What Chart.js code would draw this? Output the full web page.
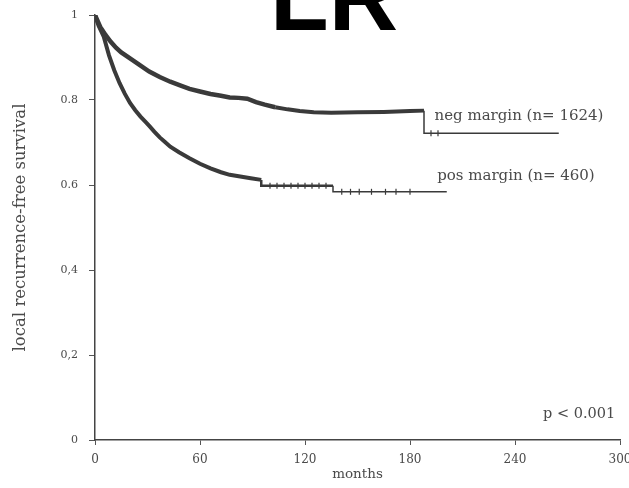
<!DOCTYPE html>
<html>
<head>
<meta charset="utf-8">
<script src="https://cdn.jsdelivr.net/npm/chart.js@4.4.1/dist/chart.umd.min.js"></script>
<style>
  html, body { margin: 0; padding: 0; background: #fff; }
  #wrap { width: 629px; height: 488px; position: relative; }
</style>
</head>
<body>
<div id="wrap"><canvas id="c" width="629" height="488"></canvas></div>
<script>
// ---- data ----
const chartTitle = 'LR';
const xAxisTitle = 'months';
const yAxisTitle = 'local recurrence-free survival';
const xTickValues = [0, 60, 120, 180, 240, 300];
const yTickValues = [0, 0.2, 0.4, 0.6, 0.8, 1];
const yTickLabels = ['0', '0,2', '0,4', '0.6', '0.8', '1'];

const negLabel = 'neg margin (n= 1624)';
const negMonths = [0, 3, 6, 9, 12, 15, 20, 25, 31, 37, 43, 49, 54, 60, 66, 72, 77, 82, 87, 92, 97, 103, 110, 117, 125, 135, 150, 165, 180, 188, 188, 265];
const negSurv   = [1.0, 0.972, 0.953, 0.937, 0.923, 0.912, 0.898, 0.884, 0.867, 0.854, 0.843, 0.834, 0.826, 0.82, 0.814, 0.81, 0.806, 0.805, 0.803, 0.795, 0.789, 0.783, 0.778, 0.774, 0.771, 0.770, 0.771, 0.772, 0.774, 0.775, 0.722, 0.722];

const posLabel = 'pos margin (n= 460)';
const posMonths = [0, 2, 5, 8, 11, 14, 17, 20, 23, 26, 29, 31, 34, 37, 40, 43, 48, 54, 60, 66, 72, 77, 83, 89, 95, 95, 136, 136, 201];
const posSurv   = [1.0, 0.975, 0.949, 0.905, 0.87, 0.84, 0.815, 0.793, 0.776, 0.761, 0.748, 0.739, 0.725, 0.712, 0.701, 0.69, 0.677, 0.663, 0.65, 0.639, 0.63, 0.624, 0.62, 0.616, 0.612, 0.598, 0.598, 0.584, 0.584];

// censor marks on the late flat parts
const posCensorMonths = [100, 104, 108, 112, 116, 120, 124, 128, 132, 141, 146, 151, 158, 166, 172, 180];
const posCensorSurv   = [0.598, 0.598, 0.598, 0.598, 0.598, 0.598, 0.598, 0.598, 0.598, 0.584, 0.584, 0.584, 0.584, 0.584, 0.584, 0.584];
const negCensorMonths = [192, 196];
const negCensorSurv   = [0.722, 0.722];

const pValueText = 'p < 0.001';

// ---- build ----
const toXY = (xs, ys) => xs.map((x, i) => ({ x: x, y: ys[i] }));
const ink = '#3a3a3a';
const textInk = '#4a4a4a';
const serif = '"DejaVu Serif", "Liberation Serif", serif';

const annotations = {
  id: 'annotations',
  afterDraw(chart) {
    const { ctx, scales: { x, y } } = chart;
    ctx.save();
    ctx.fillStyle = textInk;
    ctx.font = '15px ' + serif;
    ctx.textAlign = 'left';
    ctx.textBaseline = 'middle';
    ctx.fillText(negLabel, x.getPixelForValue(194), y.getPixelForValue(0.762));
    ctx.fillText(posLabel, x.getPixelForValue(195.5), y.getPixelForValue(0.621));
    ctx.font = '14.5px ' + serif;
    ctx.fillText(pValueText, x.getPixelForValue(256), y.getPixelForValue(0.061));
    // big title
    ctx.fillStyle = '#000';
    ctx.font = 'bold 96px "Liberation Sans", Arial, sans-serif';
    ctx.textAlign = 'center';
    ctx.textBaseline = 'alphabetic';
    ctx.fillText(chartTitle, 334, 30);
    ctx.restore();
  }
};

new Chart(document.getElementById('c'), {
  type: 'line',
  data: {
    datasets: [
      {
        label: negLabel,
        data: toXY(negMonths, negSurv),
        borderColor: ink,
        borderWidth: 4.5,
        pointRadius: 0,
        fill: false,
        segment: { borderWidth: c => (c.p0.parsed.x >= 188 ? 1.5 : (c.p0.parsed.x >= 100 ? 4 : 4.5)) }
      },
      {
        label: posLabel,
        data: toXY(posMonths, posSurv),
        borderColor: ink,
        borderWidth: 4,
        pointRadius: 0,
        fill: false,
        segment: { borderWidth: c => (c.p0.parsed.x >= 136 ? 1.5 : (c.p0.parsed.x >= 95 ? 2.5 : 4)) }
      },
      {
        label: 'pos censored',
        type: 'scatter',
        data: toXY(posCensorMonths, posCensorSurv),
        pointStyle: 'line',
        rotation: 90,
        radius: 3,
        borderColor: ink,
        borderWidth: 1.2
      },
      {
        label: 'neg censored',
        type: 'scatter',
        data: toXY(negCensorMonths, negCensorSurv),
        pointStyle: 'line',
        rotation: 90,
        radius: 3,
        borderColor: ink,
        borderWidth: 1.2
      }
    ]
  },
  options: {
    responsive: false,
    animation: false,
    layout: { padding: { left: 0, top: 15, right: 9, bottom: 0 } },
    plugins: { legend: { display: false }, tooltip: { enabled: false }, title: { display: false } },
    scales: {
      x: {
        type: 'linear',
        min: 0, max: 300,
        afterFit: s => { s.height = 48; s.paddingLeft = 0; s.paddingRight = 0; },
        afterBuildTicks: s => { s.ticks = xTickValues.map(v => ({ value: v })); },
        grid: { display: true, drawOnChartArea: false, drawTicks: true, tickLength: 5, color: '#555', tickWidth: 1 },
        border: { display: true, color: '#444', width: 1.5 },
        ticks: { color: textInk, font: { family: serif, size: 12 }, padding: 8, maxRotation: 0 },
        title: { display: true, text: xAxisTitle, color: textInk, font: { family: serif, size: 13.5 }, padding: { top: 0, bottom: 5 } }
      },
      y: {
        type: 'linear',
        min: 0, max: 1,
        afterFit: s => { s.width = 95; s.paddingTop = 0; s.paddingBottom = 0; },
        afterBuildTicks: s => { s.ticks = yTickValues.map(v => ({ value: v })); },
        grid: { display: true, drawOnChartArea: false, drawTicks: true, tickLength: 6, color: '#555', tickWidth: 1 },
        border: { display: true, color: '#444', width: 1.5 },
        ticks: {
          color: textInk, font: { family: serif, size: 11 }, padding: 11,
          callback: (v) => { const i = yTickValues.findIndex(t => Math.abs(t - v) < 1e-9); return i >= 0 ? yTickLabels[i] : ''; }
        },
        title: { display: true, text: yAxisTitle, color: textInk, font: { family: serif, size: 16.5 }, padding: { top: 11, bottom: 0 } }
      }
    }
  },
  plugins: [annotations]
});
</script>
</body>
</html>
